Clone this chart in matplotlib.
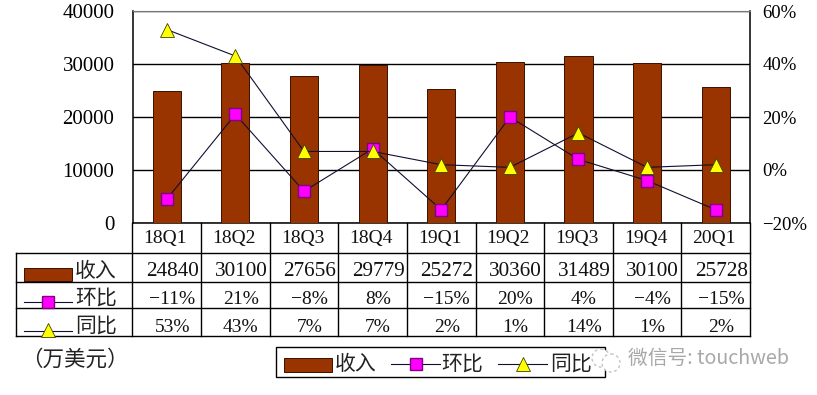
import matplotlib
matplotlib.use('Agg')
import matplotlib.pyplot as plt
from matplotlib.lines import Line2D
from matplotlib.patches import Rectangle, Circle

plt.rcParams['font.family'] = ['Liberation Serif', 'Noto Sans CJK SC', 'DejaVu Sans']

quarters = ['18Q1', '18Q2', '18Q3', '18Q4', '19Q1', '19Q2', '19Q3', '19Q4', '20Q1']
revenue = [24840, 30100, 27656, 29779, 25272, 30360, 31489, 30100, 25728]
qoq = [-11, 21, -8, 8, -15, 20, 4, -4, -15]
yoy = [53, 43, 7, 7, 2, 1, 14, 1, 2]
left_ticks = [0, 10000, 20000, 30000, 40000]
right_ticks = [-20, 0, 20, 40, 60]

W, H = 817, 395
BROWN = '#993300'
MAGENTA = '#ff00ff'
YELLOW = '#ffff00'
FS = 15
CJK = ['Noto Sans CJK SC', 'DejaVu Sans']
SQ = dict(marker='s', markersize=8.8, markerfacecolor=MAGENTA, markeredgecolor='#800080', markeredgewidth=1)
TRI = dict(marker='^', markersize=9.5, markerfacecolor=YELLOW, markeredgecolor='#404000', markeredgewidth=0.6)

fig = plt.figure(figsize=(W / 100, H / 100), dpi=100)

# plot area in pixels
x0, x1, y0, y1 = 132.5, 750, 223, 11
ax = fig.add_axes([x0 / W, 1 - y0 / H, (x1 - x0) / W, (y0 - y1) / H])
ax.bar(range(9), revenue, width=0.41, color=BROWN, edgecolor='#3a1000', linewidth=0.7, zorder=3)
ax.set_xlim(-0.5, 8.5)
ax.set_ylim(0, 40000)
ax.set_yticks(left_ticks)
ax.set_xticks([])
ax.tick_params(axis='y', length=0, pad=13, labelsize=FS)
ax.grid(axis='y', color='black', linewidth=1, zorder=1)
ax.spines['top'].set_color('#777777')
ax.spines['bottom'].set_linewidth(1.1)
ax.spines['left'].set_linewidth(1.1)
ax.spines['right'].set_linewidth(1.1)

ax2 = ax.twinx()
ax2.set_ylim(-20, 60)
ax2.set_yticks(right_ticks)
ax2.set_yticklabels([f'{t}%'.replace('-', '\u2212') for t in right_ticks])
ax2.tick_params(axis='y', length=0, pad=9, labelsize=13.5)
for s in ax2.spines.values():
    s.set_visible(False)
ax2.plot(range(9), qoq, color='#101030', linewidth=0.8, zorder=4, **SQ)
ax2.plot(range(9), yoy, color='#101030', linewidth=0.8, zorder=5, **TRI)

# overlay in pixel coordinates for the data table, legend, notes
ov = fig.add_axes([0, 0, 1, 1], zorder=10)
ov.set_xlim(0, W)
ov.set_ylim(H, 0)
ov.axis('off')
ov.patch.set_alpha(0)

col_w = (x1 - x0) / 9
rows = [223, 253, 281.5, 308, 336]
tx0 = 16.5


def hline(x_a, x_b, y, c='black', lw=1.0):
    ov.add_line(Line2D([x_a, x_b], [y, y], color=c, linewidth=lw))


def vline(x, y_a, y_b):
    ov.add_line(Line2D([x, x], [y_a, y_b], color='black', linewidth=1.0))


for y in rows[1:]:
    hline(tx0, x1, y)
vline(tx0, rows[1], rows[4])
for i in range(10):
    vline(x0 + i * col_w, rows[0], rows[4])

# row text: values, size, x shift, y centre
row_values = [
    ([q for q in quarters], 14, -1.5, 238),
    ([str(v) for v in revenue], 15.3, 5.5, 272),
    ([f'{v}%'.replace('-', '\u2212') for v in qoq], 14, 5.5, 299),
    ([f'{v}%' for v in yoy], 14, 5.5, 327),
]
for vals, size, dx, yc in row_values:
    for i, v in enumerate(vals):
        ov.text(x0 + (i + 0.5) * col_w + dx, yc, v, fontsize=size, ha='center', va='center', color='#111111')

# table row keys
ov.add_patch(Rectangle((24.5, 267.5), 48, 13.5, facecolor=BROWN, edgecolor='#3a1000', linewidth=0.7))
hline(24.5, 72.5, 302, c='#101030', lw=0.8)
ov.add_line(Line2D([48.5], [302], **SQ))
hline(24.5, 72.5, 330.5, c='#101030', lw=0.8)
ov.add_line(Line2D([48.5], [329.5], **TRI))
for label, yc in zip(['收入', '环比', '同比'], [271, 298, 326]):
    ov.text(96, yc, label, fontsize=FS, family=CJK, ha='center', va='center', color='#222222')

ov.text(75, 360, '（万美元）', fontsize=15.5, family=CJK, ha='center', va='center', color='#222222')

# legend box
ov.add_patch(Rectangle((276.5, 346.5), 329, 30, facecolor='white', edgecolor='black', linewidth=1))
ov.add_patch(Rectangle((284.5, 357.5), 48, 14, facecolor=BROWN, edgecolor='#3a1000', linewidth=0.7))
ov.text(356, 364, '收入', fontsize=FS, family=CJK, ha='center', va='center', color='#222222')
hline(391, 440, 364, c='#101030', lw=0.8)
ov.add_line(Line2D([416], [364], **SQ))
ov.text(462.5, 364, '环比', fontsize=FS, family=CJK, ha='center', va='center', color='#222222')
hline(498, 547, 364, c='#101030', lw=0.8)
ov.add_line(Line2D([523], [364], **TRI))
ov.text(571, 364, '同比', fontsize=FS, family=CJK, ha='center', va='center', color='#222222')

# watermark
ov.add_patch(Circle((601, 358), 9, facecolor='white', edgecolor='#c4c4c4', linewidth=1, linestyle=(0, (2, 2)), zorder=6))
ov.add_patch(Circle((611, 363), 9, facecolor='white', edgecolor='#c4c4c4', linewidth=1, linestyle=(0, (2, 2)), zorder=6))
ov.text(628, 358.5, '微信号: touchweb', fontsize=14.2, family=CJK,
        ha='left', va='center', color='#a8a8a8', zorder=6)

fig.savefig('out.png', dpi=100)
